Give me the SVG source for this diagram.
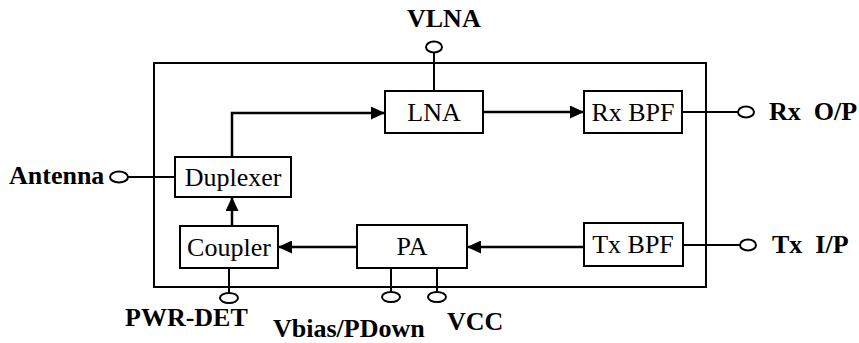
<svg xmlns="http://www.w3.org/2000/svg" width="859" height="343" viewBox="0 0 859 343">
<style>
.box{fill:#fff;stroke:#000;stroke-width:2}
.ln{fill:none;stroke:#000;stroke-width:2}
.ar{fill:none;stroke:#000;stroke-width:2.5}
.pin{fill:#fff;stroke:#000;stroke-width:2}
.t{font-family:"Liberation Serif","Times New Roman",serif;font-size:26px;fill:#000;text-anchor:middle}
.lb{font-family:"Liberation Serif","Times New Roman",serif;font-size:26px;font-weight:bold;fill:#000;white-space:pre}
</style>
<defs>
<marker id="ah" viewBox="0 0 14 13" refX="14" refY="6.5" markerWidth="14" markerHeight="13" markerUnits="userSpaceOnUse" orient="auto">
<path d="M0,0 L14,6.5 L0,13 Z" fill="#000"/>
</marker>
</defs>
<rect id="module" x="154" y="63" width="552" height="224" fill="none" stroke="#000" stroke-width="2"/>
<g id="connectors">
<line class="ln" x1="434" y1="53" x2="434" y2="91"/>
<line class="ln" x1="682" y1="112" x2="738" y2="112"/>
<line class="ln" x1="683" y1="245" x2="740" y2="245"/>
<line class="ln" x1="128" y1="177" x2="175" y2="177"/>
<line class="ln" x1="229" y1="268" x2="229" y2="293"/>
<line class="ln" x1="391" y1="268" x2="391" y2="292"/>
<line class="ln" x1="437" y1="268" x2="437" y2="292"/>
<polyline class="ar" points="232,157 232,113 385,113" marker-end="url(#ah)"/>
<line class="ar" x1="483" y1="112" x2="584" y2="112" marker-end="url(#ah)"/>
<line class="ar" x1="232" y1="226" x2="232" y2="197" marker-end="url(#ah)"/>
<line class="ar" x1="357" y1="247" x2="278" y2="247" marker-end="url(#ah)"/>
<line class="ar" x1="584" y1="247" x2="467" y2="247" marker-end="url(#ah)"/>
</g>
<g id="lna"><rect class="box" x="385" y="91" width="98" height="42"/><text class="t" x="434" y="121">LNA</text></g>
<g id="rxbpf"><rect class="box" x="584" y="91" width="98" height="42"/><text class="t" x="633" y="121">Rx BPF</text></g>
<g id="duplexer"><rect class="box" x="175" y="157" width="116" height="40"/><text class="t" x="233" y="186">Duplexer</text></g>
<g id="coupler"><rect class="box" x="180" y="226" width="98" height="42"/><text class="t" x="229" y="256">Coupler</text></g>
<g id="pa"><rect class="box" x="357" y="225" width="110" height="43"/><text class="t" x="412" y="255">PA</text></g>
<g id="txbpf"><rect class="box" x="584" y="223" width="99" height="43"/><text class="t" x="633" y="253">Tx BPF</text></g>
<g id="vlna"><ellipse class="pin" cx="434" cy="47" rx="8" ry="5.5"/><text class="lb" x="407" y="27">VLNA</text></g>
<g id="rxop"><ellipse class="pin" cx="746" cy="112" rx="8" ry="5.5"/><text class="lb" x="769" y="120">Rx  O/P</text></g>
<g id="txip"><ellipse class="pin" cx="748" cy="245" rx="8" ry="5.5"/><text class="lb" x="772" y="253">Tx  I/P</text></g>
<g id="antenna"><ellipse class="pin" cx="119" cy="177" rx="9" ry="5.5"/><text class="lb" x="9" y="184">Antenna</text></g>
<g id="pwrdet"><ellipse class="pin" cx="229" cy="298" rx="9" ry="5"/><text class="lb" x="125" y="326">PWR-DET</text></g>
<g id="vbias"><ellipse class="pin" cx="391" cy="297" rx="9" ry="5"/><text class="lb" x="273" y="337">Vbias/PDown</text></g>
<g id="vcc"><ellipse class="pin" cx="437" cy="297" rx="9" ry="5"/><text class="lb" x="447" y="330">VCC</text></g>
</svg>
